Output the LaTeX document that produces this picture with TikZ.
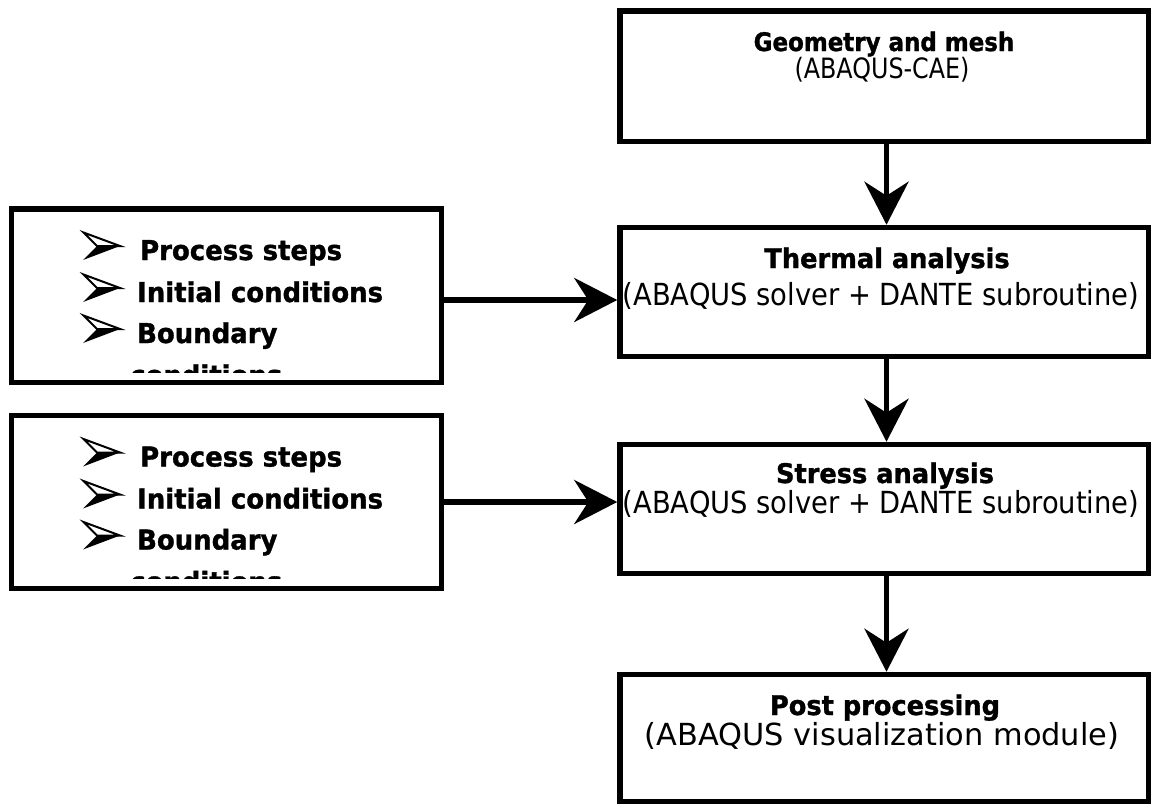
\documentclass[tikz,border=0pt]{standalone}
\usepackage{fontspec}
\setmainfont{DejaVu Sans}
\newfontfamily\regn[FakeStretch=0.9]{DejaVu Sans}
\newfontfamily\regg[FakeStretch=0.85]{DejaVu Sans}
\newfontfamily\boldn[FakeStretch=0.95,FakeBold=1.2]{DejaVu Sans Bold}
\newfontfamily\boldg[FakeStretch=0.9,FakeBold=1.2]{DejaVu Sans Bold}
\usetikzlibrary{arrows.meta}
\begin{document}
\begin{tikzpicture}[x=1pt,y=-1pt,
  box/.style={draw, line width=5.5pt, inner sep=0pt, rectangle},
  arr/.style={line width=5.5pt, -{Stealth[length=43pt,width=44pt,inset=14pt]}},
  ttl/.style={anchor=base, inner sep=0pt, font=\boldn\fontsize{27}{32}\selectfont},
  sub/.style={anchor=base, inner sep=0pt, font=\regn\fontsize{30.4}{36}\selectfont},
  psub/.style={anchor=base, inner sep=0pt, font=\fontsize{30.4}{36}\selectfont},
  gttl/.style={anchor=base, inner sep=0pt, font=\boldg\fontsize{25.5}{30}\selectfont},
  gsub/.style={anchor=base, inner sep=0pt, font=\regg\fontsize{28}{32}\selectfont},
  item/.style={anchor=base west, inner sep=0pt, font=\boldn\fontsize{27.3}{32}\selectfont},
  bul/.pic={
    \draw[line width=2pt, fill=white, line join=miter] (-18,-13.5) -- (18.5,0) -- (-4.5,0) -- cycle;
    \fill (-4.5,0) -- (18.5,0) -- (-18.5,14) -- cycle;
  }
]
\useasboundingbox (0,0) rectangle (1151,804);
\fill[white] (0,0) rectangle (1151,804);

% right column boxes
\node[box, minimum width=528.5pt, minimum height=130.5pt] (geo) at (884.25,76.25) {};
\node[box, minimum width=528.5pt, minimum height=129pt] (therm) at (884.25,292) {};
\node[box, minimum width=528.5pt, minimum height=129pt] (stress) at (884.25,509) {};
\node[box, minimum width=528.5pt, minimum height=127pt] (post) at (884.25,738) {};

% left boxes
\node[box, minimum width=430pt, minimum height=173.5pt] (L1) at (226.5,295.75) {};
\node[box, minimum width=430pt, minimum height=173pt] (L2) at (226.5,502) {};

% texts in right column
\node[gttl] (geoT) at (884,51) {Geometry and mesh};
\node[gsub] (geoS) at (882,78) {(ABAQUS-CAE)};
\node[ttl] (thT) at (887,268) {Thermal analysis};
\node[sub] (thS) at (881,305) {(ABAQUS solver + DANTE subroutine)};
\node[ttl] (stT) at (885,483) {Stress analysis};
\node[sub] (stS) at (881,513) {(ABAQUS solver + DANTE subroutine)};
\node[ttl] (poT) at (885,715) {Post processing};
\node[psub] (poS) at (882,745) {(ABAQUS visualization module)};

% left lists (clipped)
\begin{scope}
  \clip (15,212) rectangle (438,372);
  \pic at (101.5,246) {bul};
  \pic at (101.5,288) {bul};
  \pic at (101.5,329) {bul};
  \node[item] (a1) at (140,260) {Process steps};
  \node[item] (a2) at (137,302) {Initial conditions};
  \node[item] (a3) at (137,343) {Boundary};
  \node[item] (a4) at (130,385) {conditions};
\end{scope}
\begin{scope}
  \clip (15,418.5) rectangle (438,578.5);
  \pic at (101.5,452.5) {bul};
  \pic at (101.5,494.5) {bul};
  \pic at (101.5,535.5) {bul};
  \node[item] (b1) at (140,466.5) {Process steps};
  \node[item] (b2) at (137,508.5) {Initial conditions};
  \node[item] (b3) at (137,549.5) {Boundary};
  \node[item] (b4) at (130,591.5) {conditions};
\end{scope}

% connectors
\coordinate (ax) at (886.5,0);
\coordinate (y1) at (0,300);
\coordinate (y2) at (0,502);
\draw[arr] (geo.south -| ax) -- (therm.north -| ax);
\draw[arr] (therm.south -| ax) -- (stress.north -| ax);
\draw[arr] (stress.south -| ax) -- (post.north -| ax);
\draw[arr] (L1.east |- y1) -- (therm.west |- y1);
\draw[arr] (L2.east |- y2) -- (stress.west |- y2);
\end{tikzpicture}
\end{document}
